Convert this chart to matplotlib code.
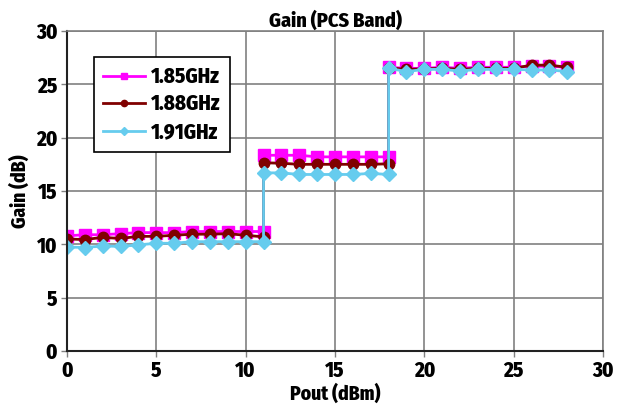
import matplotlib.pyplot as plt

plt.rcParams["font.family"] = ["Fira Sans Condensed", "PT Sans Narrow", "DejaVu Sans"]
plt.rcParams["font.weight"] = 800

# Pout sweep: each band repeats its edge point so the steps are vertical
pout = [0, 1, 2, 3, 4, 5, 6, 7, 8, 9, 10, 11,
        11, 12, 13, 14, 15, 16, 17, 18,
        18, 19, 20, 21, 22, 23, 24, 25, 26, 27, 28]

gain_185 = [10.8, 10.9, 10.9, 11.0, 11.1, 11.1, 11.1, 11.2, 11.2, 11.2, 11.2, 11.2,
            18.35, 18.35, 18.35, 18.2, 18.2, 18.2, 18.2, 18.2,
            26.6, 26.5, 26.5, 26.6, 26.5, 26.6, 26.6, 26.6, 26.7, 26.7, 26.6]
gain_188 = [10.5, 10.45, 10.65, 10.55, 10.75, 10.75, 10.85, 10.95, 10.95, 11.0, 10.85, 10.7,
            17.65, 17.6, 17.5, 17.5, 17.5, 17.5, 17.5, 17.55,
            26.55, 26.4, 26.45, 26.5, 26.4, 26.5, 26.5, 26.5, 26.8, 26.8, 26.6]
gain_191 = [9.75, 9.7, 9.85, 9.8, 9.95, 10.1, 10.1, 10.25, 10.25, 10.25, 10.25, 10.25,
            16.7, 16.7, 16.55, 16.55, 16.55, 16.55, 16.65, 16.55,
            26.5, 26.2, 26.4, 26.4, 26.25, 26.4, 26.4, 26.4, 26.35, 26.35, 26.2]

labels = ["1.85GHz", "1.88GHz", "1.91GHz"]

fig = plt.figure(figsize=(6.26, 4.18), dpi=100)
ax = fig.add_axes([67 / 626, 1 - 351 / 418, 536 / 626, 320 / 418])

ax.plot(pout, gain_185, color="#ff00ff", marker="s", markersize=8, linewidth=2, label=labels[0])
ax.plot(pout, gain_188, color="#800000", marker="o", markersize=7.5, linewidth=2, label=labels[1])
ax.plot(pout, gain_191, color="#66ccee", marker="D", markersize=7, linewidth=2, label=labels[2])

ax.set_xlim(0, 30)
ax.set_ylim(0, 30)
ax.set_xticks(range(0, 31, 5))
ax.set_yticks(range(0, 31, 5))
ax.grid(True, color="#808080", linewidth=1.2)
ax.set_axisbelow(True)

for side in ["top", "right"]:
    ax.spines[side].set_color("#808080")
    ax.spines[side].set_linewidth(1.2)
for side in ["left", "bottom"]:
    ax.spines[side].set_color("#222222")
    ax.spines[side].set_linewidth(1.5)

ax.tick_params(axis="both", labelsize=15, length=4, width=1, direction="out",
               color="#808080", pad=3)

ax.set_title("Gain (PCS Band)", fontsize=14.5, fontweight=800, pad=3)
ax.set_xlabel("Pout (dBm)", fontsize=14, fontweight=800, labelpad=1)
ax.set_ylabel("Gain (dB)", fontsize=14, fontweight=800, labelpad=4)

leg = ax.legend(loc="upper left", bbox_to_anchor=(0.05, 0.919), prop={"weight": 800, "size": 15},
                fancybox=False, framealpha=1, edgecolor="black", borderpad=0.45,
                borderaxespad=0, handlelength=2.0, labelspacing=0.3, handletextpad=0.3,
                markerscale=0.6)
leg.get_frame().set_linewidth(1.2)

fig.savefig("out.png", dpi=100)
